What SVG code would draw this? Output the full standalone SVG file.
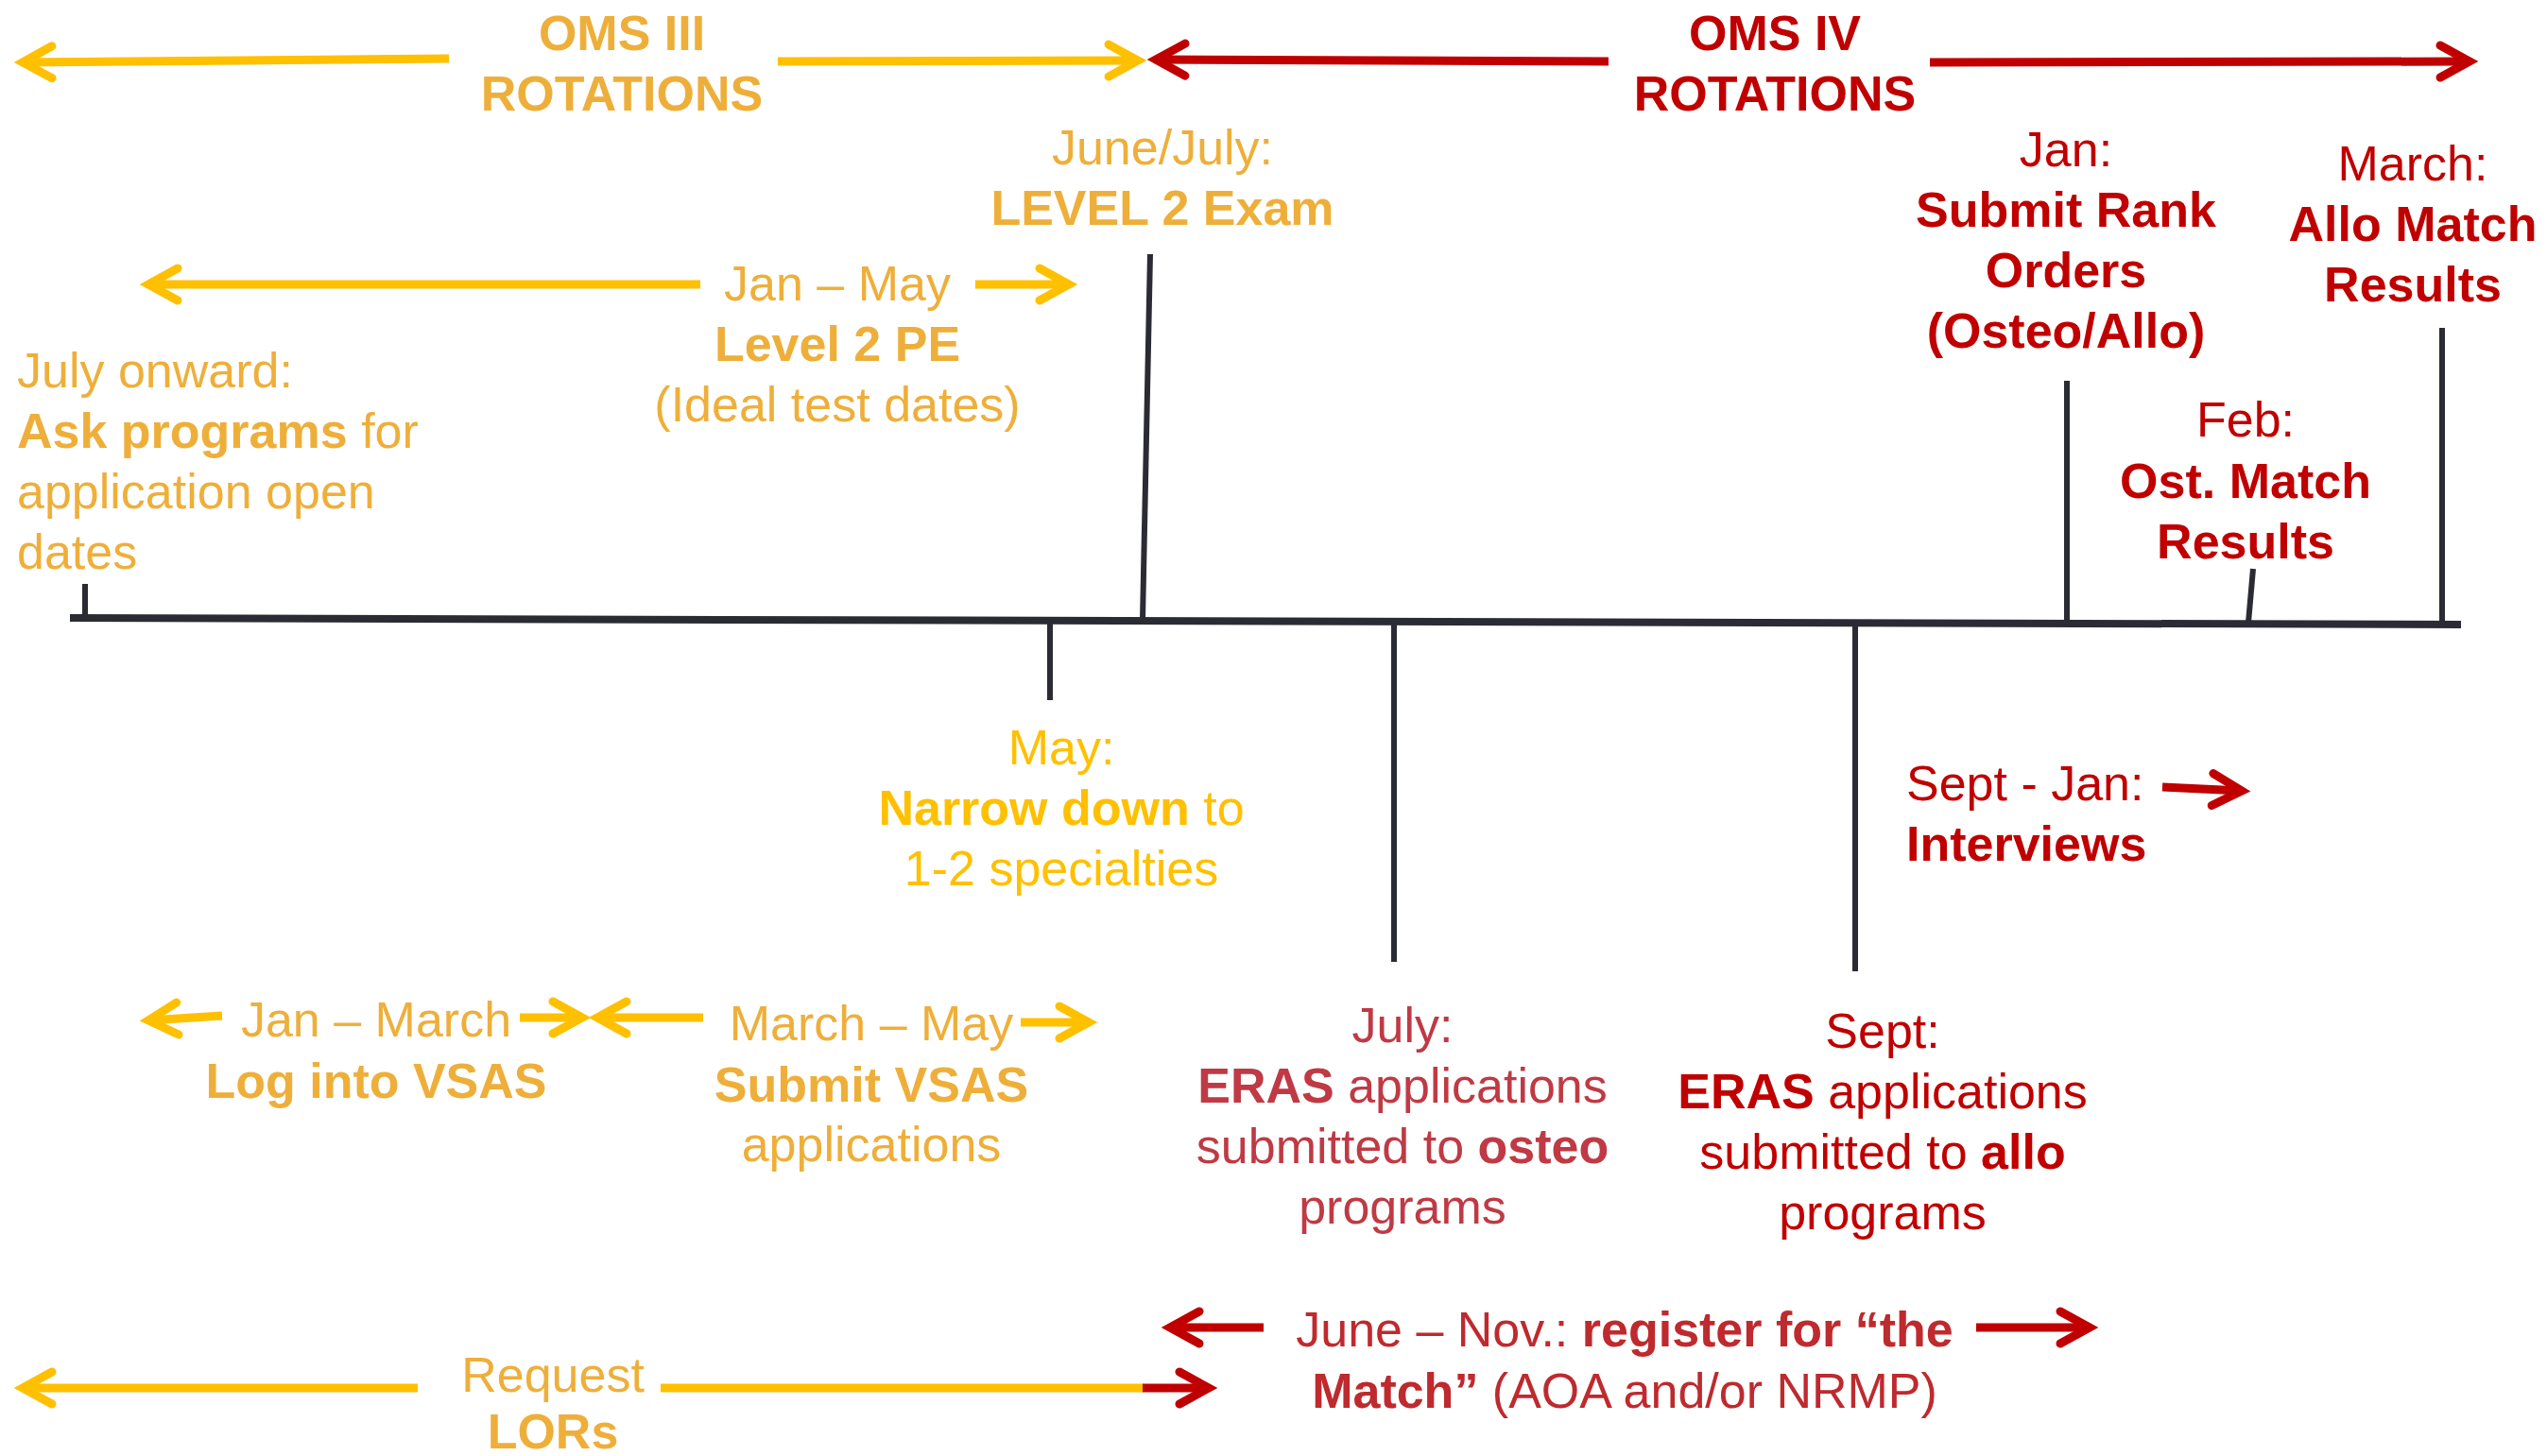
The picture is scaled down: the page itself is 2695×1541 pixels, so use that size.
<svg xmlns="http://www.w3.org/2000/svg" width="2695" height="1541" viewBox="0 0 2695 1541">
<style>
.t{font-family:"Liberation Sans",Arial,sans-serif;font-size:52px;text-anchor:middle}
.l{text-anchor:start}
.b{font-weight:bold}
.gold{fill:#EEAF3A}
.yel{fill:#FFC000}
.red{fill:#C00000}
.rose{fill:#BF3A44}
.crim{fill:#BE2A2E}
.ln{stroke:#2B2B33;fill:none;stroke-width:6}
.ay{stroke:#FFC000;stroke-width:9;fill:none;marker-end:url(#hy)}
.ar{stroke:#C00000;stroke-width:9;fill:none;marker-end:url(#hr)}
</style>
<defs>
<marker id="hy" markerUnits="userSpaceOnUse" viewBox="-45 -30 60 60" markerWidth="60" markerHeight="60" refX="0" refY="0" orient="auto" overflow="visible">
<path d="M-31,-17 L0,0 L-31,17" fill="none" stroke="#FFC000" stroke-width="9" stroke-linecap="round"/>
</marker>
<marker id="hr" markerUnits="userSpaceOnUse" viewBox="-45 -30 60 60" markerWidth="60" markerHeight="60" refX="0" refY="0" orient="auto" overflow="visible">
<path d="M-31,-17 L0,0 L-31,17" fill="none" stroke="#C00000" stroke-width="9" stroke-linecap="round"/>
</marker>
</defs>
<rect width="2695" height="1541" fill="#FFFFFF"/>

<g id="connectors">
<path d="M74,654 L2604,661" stroke="#2B2B33" stroke-width="8" fill="none"/>
<path class="ln" d="M90,618 L90,655"/>
<path class="ln" d="M1217,269 L1209,656"/>
<path class="ln" d="M1111,658 L1111,741"/>
<path class="ln" d="M1475,658 L1475,1018"/>
<path class="ln" d="M1963,659 L1963,1028"/>
<path class="ln" d="M2187,403 L2187,659"/>
<path class="ln" d="M2384,602 L2379,659"/>
<path class="ln" d="M2584,347 L2584,660"/>

<path class="ay" d="M475,62 L24,66"/>
<path class="ay" d="M823,65 L1204,64"/>
<path class="ay" d="M741,301 L157,301"/>
<path class="ay" d="M1032,301 L1131,301"/>
<path class="ay" d="M235,1075 L157,1080"/>
<path class="ay" d="M550,1077 L616,1077"/>
<path class="ay" d="M744,1077 L632,1077"/>
<path class="ay" d="M1080,1082 L1152,1082"/>
<path class="ay" d="M442,1469 L24,1469"/>
<path d="M699,1469 L1210,1469" stroke="#FFC000" stroke-width="9" fill="none"/>
<path class="ar" d="M1209,1469 L1279,1469"/>
<path class="ar" d="M1702,65 L1223,63"/>
<path class="ar" d="M2042,66 L2613,65"/>
<path class="ar" d="M1337,1405 L1238,1405"/>
<path class="ar" d="M2091,1405 L2211,1405"/>
<path class="ar" d="M2288,833 L2372,837"/>
</g>

<g id="oms3"><text class="t b gold" x="658"><tspan x="658" y="53">OMS III</tspan><tspan x="658" y="117">ROTATIONS</tspan></text></g>
<g id="oms4"><text class="t b red" x="1878"><tspan x="1878" y="53">OMS IV</tspan><tspan x="1878" y="117">ROTATIONS</tspan></text></g>
<g id="level2exam"><text class="t gold"><tspan x="1230" y="174">June/July:</tspan><tspan x="1230" y="238" class="b">LEVEL 2 Exam</tspan></text></g>
<g id="level2pe"><text class="t gold"><tspan x="886" y="318">Jan – May</tspan><tspan x="886" y="382" class="b">Level 2 PE</tspan><tspan x="886" y="446">(Ideal test dates)</tspan></text></g>
<g id="askprograms"><text class="t l gold"><tspan x="18" y="410">July onward:</tspan><tspan x="18" y="474"><tspan class="b">Ask programs</tspan> for</tspan><tspan x="18" y="538">application open</tspan><tspan x="18" y="602">dates</tspan></text></g>
<g id="narrow"><text class="t yel"><tspan x="1123" y="809">May:</tspan><tspan x="1123" y="873"><tspan class="b">Narrow down</tspan> to</tspan><tspan x="1123" y="937">1-2 specialties</tspan></text></g>
<g id="logvsas"><text class="t gold"><tspan x="398" y="1097">Jan – March</tspan><tspan x="398" y="1162" class="b">Log into VSAS</tspan></text></g>
<g id="submitvsas"><text class="t gold"><tspan x="922" y="1101">March – May</tspan><tspan x="922" y="1166" class="b">Submit VSAS</tspan><tspan x="922" y="1229">applications</tspan></text></g>
<g id="erasosteo"><text class="t rose"><tspan x="1484" y="1103">July:</tspan><tspan x="1484" y="1167"><tspan class="b">ERAS</tspan> applications</tspan><tspan x="1484" y="1231">submitted to <tspan class="b">osteo</tspan></tspan><tspan x="1484" y="1295">programs</tspan></text></g>
<g id="erasallo"><text class="t red"><tspan x="1992" y="1109">Sept:</tspan><tspan x="1992" y="1173"><tspan class="b">ERAS</tspan> applications</tspan><tspan x="1992" y="1237">submitted to <tspan class="b">allo</tspan></tspan><tspan x="1992" y="1301">programs</tspan></text></g>
<g id="rankorders"><text class="t red"><tspan x="2186" y="176">Jan:</tspan><tspan x="2186" y="240" class="b">Submit Rank</tspan><tspan x="2186" y="304" class="b">Orders</tspan><tspan x="2186" y="368" class="b">(Osteo/Allo)</tspan></text></g>
<g id="allomatch"><text class="t red"><tspan x="2553" y="191">March:</tspan><tspan x="2553" y="255" class="b">Allo Match</tspan><tspan x="2553" y="319" class="b">Results</tspan></text></g>
<g id="ostmatch"><text class="t red"><tspan x="2376" y="462">Feb:</tspan><tspan x="2376" y="527" class="b">Ost. Match</tspan><tspan x="2376" y="591" class="b">Results</tspan></text></g>
<g id="interviews"><text class="t l red"><tspan x="2017" y="847">Sept - Jan:</tspan><tspan x="2017" y="911" class="b">Interviews</tspan></text></g>
<g id="lors"><text class="t gold"><tspan x="585" y="1473">Request</tspan><tspan x="585" y="1533" class="b">LORs</tspan></text></g>
<g id="match"><text class="t crim"><tspan x="1719" y="1425">June – Nov.: <tspan class="b">register for “the</tspan></tspan><tspan x="1719" y="1490"><tspan class="b">Match”</tspan> (AOA and/or NRMP)</tspan></text></g>
</svg>
